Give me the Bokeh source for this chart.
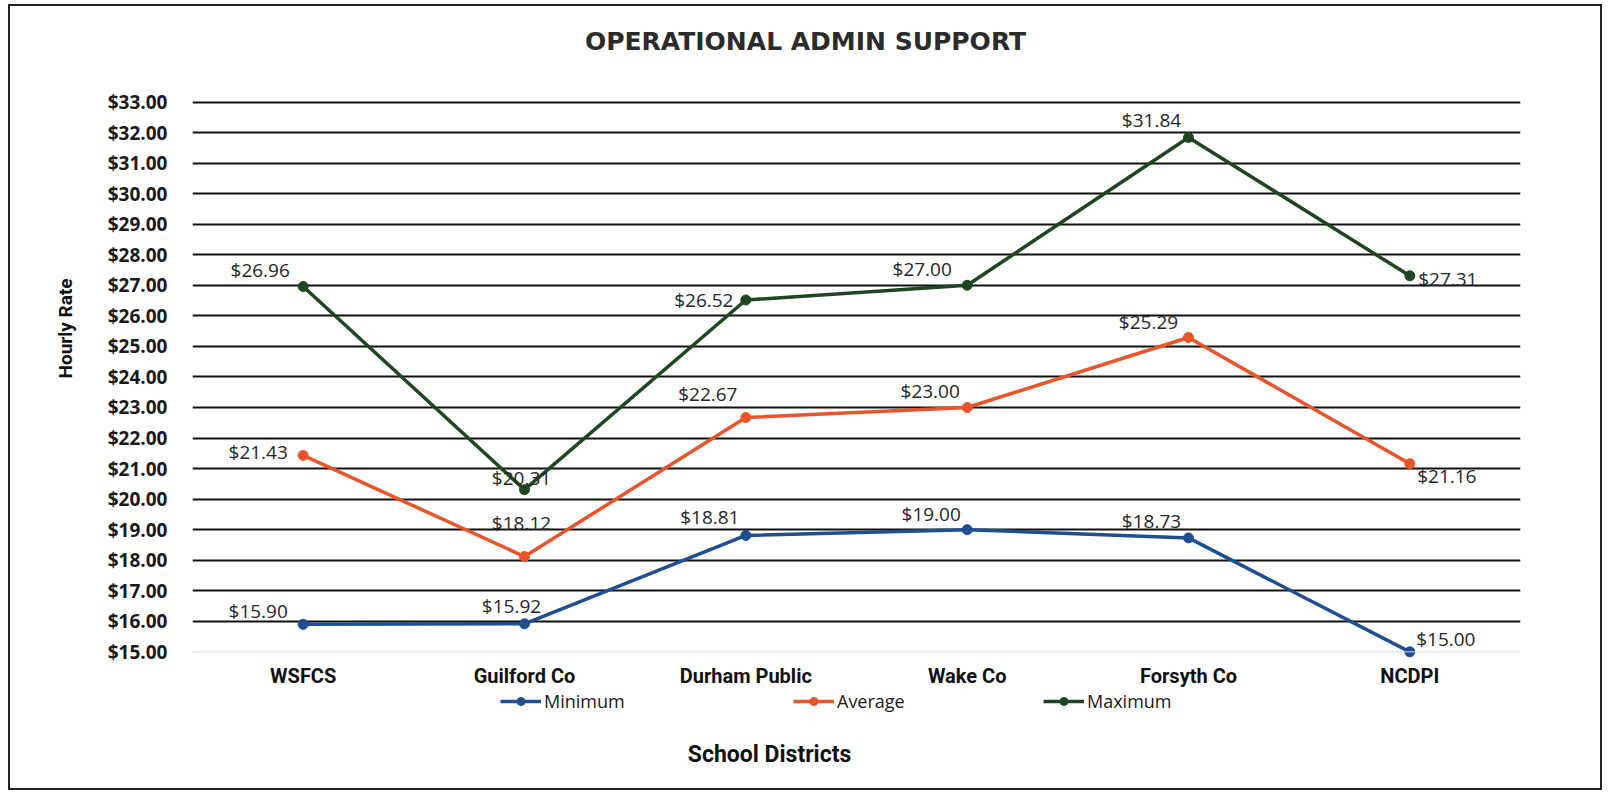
from bokeh.plotting import figure
from bokeh.layouts import column
from bokeh.models import (FixedTicker, NumeralTickFormatter, Span, Legend, Title, Label,
                          LegendItem, ColumnDataSource, Range1d, FactorRange)
from bokeh.core.properties import value
from bokeh.embed import file_html
from bokeh.resources import INLINE

# ---------------- data ----------------
title_text = "OPERATIONAL ADMIN SUPPORT"
districts = ["WSFCS", "Guilford Co", "Durham Public", "Wake Co", "Forsyth Co", "NCDPI"]
minimum = [15.90, 15.92, 18.81, 19.00, 18.73, 15.00]
average = [21.43, 18.12, 22.67, 23.00, 25.29, 21.16]
maximum = [26.96, 20.31, 26.52, 27.00, 31.84, 27.31]
series_names = ["Minimum", "Average", "Maximum"]
y_ticks = list(range(15, 34))

# ---------------- label offsets (style, px) ----------------
min_dx = [-45, -13, -36, -36, -37, 36]
min_dy = [-13, -18, -18, -16, -17, -13]
avg_dx = [-45, -3, -38, -37, -40, 37]
avg_dy = [-3, -34, -24, -16, -16, 12]
max_dx = [-43, -3, -42, -45, -37, 38]
max_dy = [-17, -12, 0, -16, -17, 3]

BLUE = "#1f4e91"
ORANGE = "#e9542a"
GREEN = "#1e4620"
COLORS = [BLUE, ORANGE, GREEN]
LABEL_FONT = value("Open Sans")

W = 1590
H_TOP = 82
H_MAIN = 602
H_LEG = 98
x_range = FactorRange(*districts, range_padding=0)


def bare(fig):
    fig.axis.visible = False
    fig.grid.visible = False
    fig.outline_line_color = None
    fig.background_fill_color = "white"
    fig.border_fill_color = "white"


# ---------------- title strip ----------------
t = figure(width=W, height=H_TOP, x_range=x_range, y_range=Range1d(0, 1),
           output_backend="svg", toolbar_location=None,
           min_border_left=0, min_border_right=0, min_border_top=0, min_border_bottom=0)
bare(t)
t.add_layout(Label(x=613, y=47, x_units="screen", y_units="screen", text=title_text,
                   text_align="center", text_baseline="middle", text_font="DejaVu Sans",
                   text_font_style="bold", text_font_size="25px", text_color="#2b2b2b"))

# ---------------- main chart ----------------
p = figure(width=W, height=H_MAIN, x_range=x_range,
           y_range=Range1d(14.75, 33.05), output_backend="svg", toolbar_location=None,
           min_border_left=182, min_border_right=80, min_border_top=12, min_border_bottom=28)
p.outline_line_color = None
p.background_fill_color = "white"
p.border_fill_color = "white"

p.xgrid.grid_line_color = None
p.ygrid.ticker = FixedTicker(ticks=y_ticks[1:])
p.ygrid.grid_line_color = "#111111"
p.ygrid.grid_line_width = 2
p.add_layout(Span(location=15, dimension="width", line_color="#d9d9d9", line_width=1))

p.yaxis.ticker = FixedTicker(ticks=y_ticks)
p.yaxis.formatter = NumeralTickFormatter(format="$0.00")
p.yaxis.axis_line_color = None
p.yaxis.major_tick_line_color = None
p.yaxis.minor_tick_line_color = None
p.yaxis.major_tick_out = 0
p.yaxis.major_label_standoff = 25
p.yaxis.major_label_text_font = "Open Sans"
p.yaxis.major_label_text_font_style = "bold"
p.yaxis.major_label_text_font_size = "19px"
p.yaxis.major_label_text_color = "#1a1a1a"

p.xaxis.axis_line_color = None
p.xaxis.major_tick_line_color = None
p.xaxis.major_tick_out = 0
p.xaxis.major_label_standoff = 4
p.xaxis.major_label_text_font = "Roboto"
p.xaxis.major_label_text_font_style = "bold"
p.xaxis.major_label_text_font_size = "20px"
p.xaxis.major_label_text_color = "#111111"

p.add_layout(Title(text="Hourly Rate", align="left", offset=281, standoff=56,
                   text_font="Roboto", text_font_style="bold", text_font_size="19px",
                   text_color="#111111"), "left")

series = [
    (minimum, BLUE, min_dx, min_dy),
    (average, ORANGE, avg_dx, avg_dy),
    (maximum, GREEN, max_dx, max_dy),
]
sources = []
for vals, color, dx, dy in series:
    src = ColumnDataSource(dict(x=districts, y=vals,
                                t=["$%.2f" % v for v in vals], dx=dx, dy=dy))
    sources.append(src)
    p.line("x", "y", source=src, line_color=color, line_width=3.5)
    p.scatter("x", "y", source=src, size=10, fill_color=color, line_color=color)
    p.text("x", "y", text="t", source=src, x_offset="dx", y_offset="dy",
           text_align="center", text_baseline="middle", text_font=LABEL_FONT,
           text_font_size="19px", text_color="#262626")

# ---------------- legend strip + x-axis title ----------------
# y range lies above every value, so these legend proxies draw nothing in the strip
q = figure(width=W, height=H_LEG, x_range=x_range, y_range=Range1d(40, 41),
           output_backend="svg", toolbar_location=None,
           min_border_left=0, min_border_right=0, min_border_top=0, min_border_bottom=0)
bare(q)

legend_x = [308, 601, 851]
for name, color, lx, src in zip(series_names, COLORS, legend_x, sources):
    ln = q.line("x", "y", source=src, line_color=color, line_width=3.5)
    sc = q.scatter("x", "y", source=src, size=10, fill_color=color, line_color=color)
    q.add_layout(Legend(items=[LegendItem(label=name, renderers=[ln, sc])],
                        location=(lx, 75), orientation="horizontal",
                        glyph_width=41, glyph_height=20, label_standoff=3, label_height=20,
                        padding=0, margin=0, border_line_color=None,
                        background_fill_alpha=0, label_text_font="Open Sans",
                        label_text_font_size="18px", label_text_color="#1a1a1a"))

q.add_layout(Label(x=577, y=34, x_units="screen", y_units="screen", text="School Districts",
                   text_align="center", text_baseline="middle", text_font="Roboto",
                   text_font_style="bold", text_font_size="23px", text_color="#111111"))

layout = column(t, p, q, spacing=0)
layout.styles = {"border": "2px solid #222", "margin-left": "8px", "margin-top": "4px",
                 "background-color": "white"}

open("out.html", "w").write(file_html(layout, INLINE))
